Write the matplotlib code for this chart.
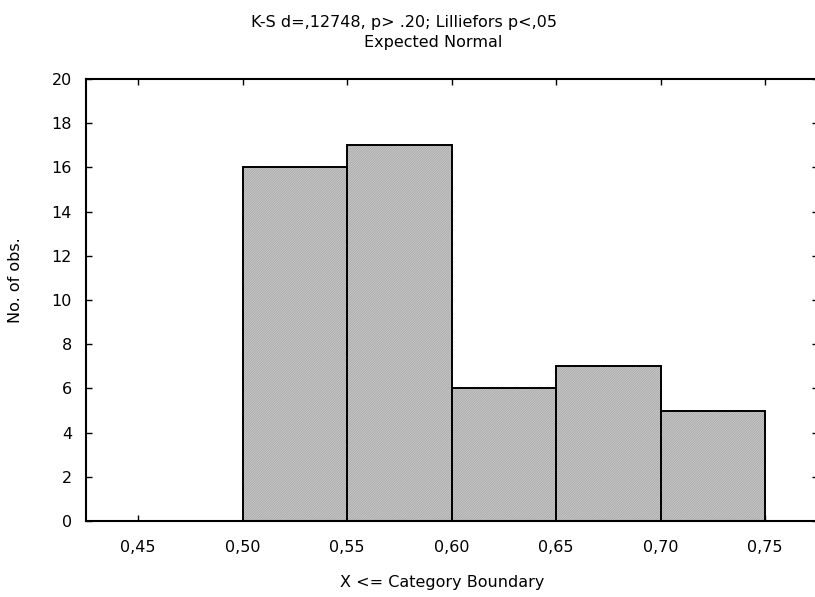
import numpy as np
import matplotlib.pyplot as plt

plt.rcParams['font.family'] = ['DejaVu Sans']
plt.rcParams['hatch.linewidth'] = 0.5

# histogram bins (upper boundary) and counts
bin_edges = [0.45, 0.50, 0.55, 0.60, 0.65, 0.70, 0.75]
counts = [0, 16, 17, 6, 7, 5]
xticks = [0.45, 0.50, 0.55, 0.60, 0.65, 0.70, 0.75]
xticklabels = ["0,45", "0,50", "0,55", "0,60", "0,65", "0,70", "0,75"]
yticks = [0, 2, 4, 6, 8, 10, 12, 14, 16, 18, 20]

fs = 11.5

fig = plt.figure(figsize=(8.15, 5.97), dpi=100)
ax = fig.add_axes([86/815, 76/597, 731.5/815, 442/597])

lefts = np.array(bin_edges[:-1])
widths = np.diff(bin_edges)
# hatched fill
ax.bar(lefts, counts, width=widths, align="edge", color="#cacaca",
       edgecolor="#a2a2a2", hatch="/"*14, linewidth=0, zorder=2)
# outlines
ax.bar(lefts, counts, width=widths, align="edge", fill=False,
       edgecolor="black", linewidth=1.4, zorder=3)

ax.set_xlim(0.425, 0.775)
ax.set_ylim(0, 20)
ax.set_xticks(xticks)
ax.set_xticklabels(xticklabels)
ax.set_yticks(yticks)
ax.tick_params(direction="in", length=4, width=1, labelsize=fs,
               top=True, right=True, colors="black")
ax.tick_params(axis="x", pad=14)
ax.tick_params(axis="y", pad=10)
ax.spines["right"].set_visible(False)
for s in ["left", "bottom", "top"]:
    ax.spines[s].set_linewidth(1.5)

fig.text(404/815, 1 - 22/597, "K-S d=,12748, p> .20; Lilliefors p<,05",
         ha="center", va="center", fontsize=fs)
fig.text(433/815, 1 - 43/597, "Expected Normal",
         ha="center", va="center", fontsize=fs)
fig.text(442/815, 1 - 583/597, "X <= Category Boundary",
         ha="center", va="center", fontsize=fs)
fig.text(16/815, 1 - 280/597, "No. of obs.", rotation=90,
         ha="center", va="center", fontsize=fs)

fig.savefig("out.png", dpi=100)
